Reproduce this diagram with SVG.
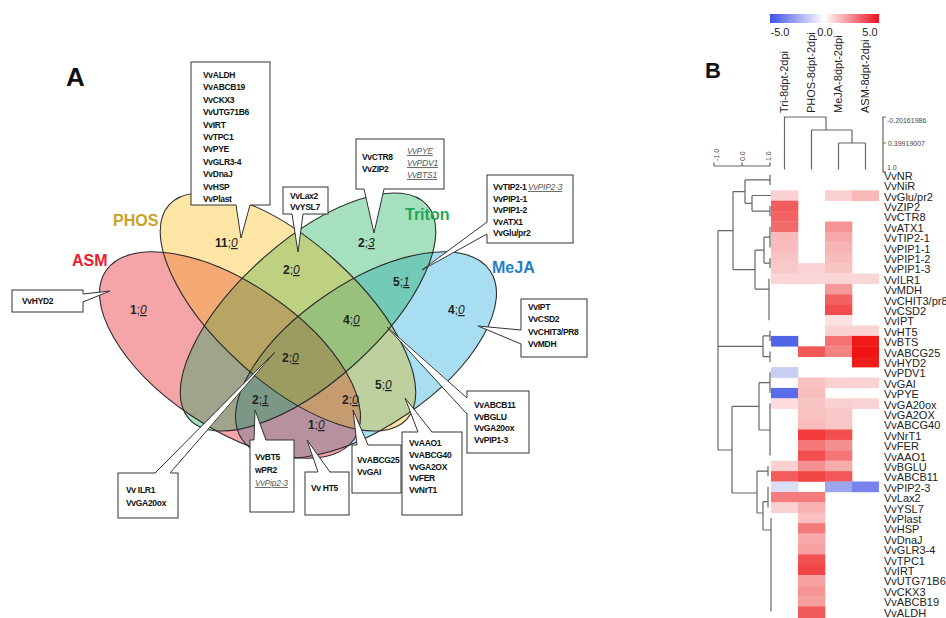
<svg xmlns="http://www.w3.org/2000/svg" width="946" height="618" viewBox="0 0 946 618">
<defs>
<style>
text{font-family:"Liberation Sans",Arial,sans-serif}
.ol{fill:none;stroke:#2b2b2b;stroke-width:1.1}
.box{fill:#fff;stroke:#333;stroke-width:1}
.wf{fill:#fff;stroke:none}
.wl{fill:none;stroke:#333;stroke-width:1}
.g{font-size:8.5px;font-weight:bold;fill:#111;letter-spacing:-0.3px}
.gi{font-size:8.5px;font-style:italic;fill:#555;text-decoration:underline;letter-spacing:-0.2px}
.n{font-size:12px;font-weight:bold;fill:#222}
.u{font-style:italic;font-weight:normal;text-decoration:underline}
.s{font-weight:normal}
.set{font-size:16px;font-weight:bold}
.dg{fill:none;stroke:#666;stroke-width:1.2}
.rl{font-size:11px;fill:#222}
.ch{font-size:11px;fill:#222}
.sc{font-size:7px;fill:#444}
.m{mix-blend-mode:multiply}
.fa{fill-opacity:0.5}
</style>
<linearGradient id="cb" x1="0" x2="1" y1="0" y2="0">
<stop offset="0" stop-color="#4050ee"/><stop offset="0.5" stop-color="#ffffff"/><stop offset="1" stop-color="#ee1020"/>
</linearGradient>
</defs>
<rect width="946" height="618" fill="#fff"/>

<text x="66" y="86" style="font-size:26px;font-weight:bold" fill="#111">A</text>

<!-- Venn fills: alpha layer -->
<g id="venn-alpha">
<ellipse class="fa" fill="#4fbde5" cx="366" cy="355" rx="150" ry="72" transform="rotate(-34.2 366 355)"/>
<ellipse class="fa" fill="#eb4951" cx="230" cy="355" rx="150" ry="72" transform="rotate(34.2 230 355)"/>
<ellipse class="fa" fill="#4bc17f" cx="308" cy="312" rx="160" ry="70" transform="rotate(-42 308 312)"/>
<ellipse class="fa" fill="#fbcd4b" cx="288" cy="312" rx="160" ry="70" transform="rotate(42 288 312)"/>
</g>
<!-- Venn fills: multiply layer -->
<g id="venn-mult" opacity="0.42">
<rect x="60" y="150" width="470" height="330" fill="#fff"/>
<ellipse class="m" fill="#f5a4a8" cx="230" cy="355" rx="150" ry="72" transform="rotate(34.2 230 355)"/>
<ellipse class="m" fill="#a7def2" cx="366" cy="355" rx="150" ry="72" transform="rotate(-34.2 366 355)"/>
<ellipse class="m" fill="#a5e0bf" cx="308" cy="312" rx="160" ry="70" transform="rotate(-42 308 312)"/>
<ellipse class="m" fill="#fde6a5" cx="288" cy="312" rx="160" ry="70" transform="rotate(42 288 312)"/>
</g>
<g id="sets">
<g id="set-asm"><ellipse class="ol" cx="230" cy="355" rx="150" ry="72" transform="rotate(34.2 230 355)"/><text class="set" x="72" y="266" fill="#e8212b">ASM</text></g>
<g id="set-meja"><ellipse class="ol" cx="366" cy="355" rx="150" ry="72" transform="rotate(-34.2 366 355)"/><text class="set" x="492" y="273" fill="#1f7fc8">MeJA</text></g>
<g id="set-triton"><ellipse class="ol" cx="308" cy="312" rx="160" ry="70" transform="rotate(-42 308 312)"/><text class="set" x="405" y="220" fill="#21a85a">Triton</text></g>
<g id="set-phos"><ellipse class="ol" cx="288" cy="312" rx="160" ry="70" transform="rotate(42 288 312)"/><text class="set" x="113" y="226" fill="#c9a227">PHOS</text></g>
</g>

<g id="counts">
<text class="n" x="215" y="247">11<tspan class="s">;</tspan><tspan class="u">0</tspan></text>
<text class="n" x="130" y="314">1<tspan class="s">;</tspan><tspan class="u">0</tspan></text>
<text class="n" x="358" y="247">2<tspan class="s">;</tspan><tspan class="u">3</tspan></text>
<text class="n" x="448" y="314">4<tspan class="s">;</tspan><tspan class="u">0</tspan></text>
<text class="n" x="283" y="274">2<tspan class="s">;</tspan><tspan class="u">0</tspan></text>
<text class="n" x="393" y="286">5<tspan class="s">;</tspan><tspan class="u">1</tspan></text>
<text class="n" x="343" y="324">4<tspan class="s">;</tspan><tspan class="u">0</tspan></text>
<text class="n" x="282" y="362">2<tspan class="s">;</tspan><tspan class="u">0</tspan></text>
<text class="n" x="375" y="389">5<tspan class="s">;</tspan><tspan class="u">0</tspan></text>
<text class="n" x="342" y="404">2<tspan class="s">;</tspan><tspan class="u">0</tspan></text>
<text class="n" x="252" y="404">2<tspan class="s">;</tspan><tspan class="u">1</tspan></text>
<text class="n" x="308" y="429">1<tspan class="s">;</tspan><tspan class="u">0</tspan></text>
</g>

<!-- callout boxes -->
<g id="box-phos"><rect class="box" x="191" y="62" width="79" height="143"/>
<text class="g" x="203" y="78">VvALDH</text><text class="g" x="203" y="90.4">VvABCB19</text><text class="g" x="203" y="102.8">VvCKX3</text><text class="g" x="203" y="115.2">VvUTG71B6</text><text class="g" x="203" y="127.6">VvIRT</text><text class="g" x="203" y="140">VvTPC1</text><text class="g" x="203" y="152.4">VvPYE</text><text class="g" x="203" y="164.8">VvGLR3-4</text><text class="g" x="203" y="177.2">VvDnaJ</text><text class="g" x="203" y="189.6">VvHSP</text><text class="g" x="203" y="202">VvPlast</text></g>
<g id="box-hyd2"><rect class="box" x="12" y="290" width="71" height="22"/><text class="g" x="22" y="304">VvHYD2</text></g>
<g id="box-lax2"><rect class="box" x="283" y="187" width="45" height="27"/><text class="g" x="290" y="199">VvLax2</text><text class="g" x="290" y="210">VvYSL7</text></g>
<g id="box-ctr8"><rect class="box" x="356" y="139" width="88" height="50"/><text class="g" x="362" y="160">VvCTR8</text><text class="g" x="362" y="172">VvZIP2</text><text class="gi" x="407" y="154">VvPYE</text><text class="gi" x="407" y="166">VvPDV1</text><text class="gi" x="407" y="178">VvBTS1</text></g>
<g id="box-tip2"><rect class="box" x="487" y="175" width="86" height="68"/><text class="g" x="493" y="190">VvTIP2-1</text><text class="gi" x="528" y="190">VvPIP2-3</text><text class="g" x="493" y="201.5">VvPIP1-1</text><text class="g" x="493" y="213">VvPIP1-2</text><text class="g" x="493" y="224.5">VvATX1</text><text class="g" x="493" y="236">VvGlu/pr2</text></g>
<g id="box-ipt"><rect class="box" x="521" y="299" width="66" height="58"/><text class="g" x="528" y="310">VvIPT</text><text class="g" x="528" y="322">VvCSD2</text><text class="g" x="528" y="335">VvCHIT3/PR8</text><text class="g" x="528" y="347">VvMDH</text></g>
<g id="box-abcb11"><rect class="box" x="467" y="391" width="62" height="62"/><text class="g" x="474" y="408">VvABCB11</text><text class="g" x="474" y="420">VvBGLU</text><text class="g" x="474" y="431">VvGA20ox</text><text class="g" x="474" y="443">VvPIP1-3</text></g>
<g id="box-aao1"><rect class="box" x="402" y="432" width="60" height="83"/><text class="g" x="409" y="446">VvAAO1</text><text class="g" x="409" y="458">VvABCG40</text><text class="g" x="409" y="470">VvGA2OX</text><text class="g" x="409" y="481">VvFER</text><text class="g" x="409" y="493">VvNrT1</text></g>
<g id="box-abcg25"><rect class="box" x="352" y="445" width="49" height="48"/><text class="g" x="357" y="463">VvABCG25</text><text class="g" x="357" y="475">VvGAI</text></g>
<g id="box-ht5"><rect class="box" x="305" y="472" width="44" height="43"/><text class="g" x="311" y="491">Vv HT5</text></g>
<g id="box-bt5"><rect class="box" x="250" y="440" width="44" height="72"/><text class="g" x="255" y="460">VvBT5</text><text class="g" x="255" y="473">wPR2</text><text class="gi" x="255" y="486">VvPip2-3</text></g>
<g id="box-ilr1"><rect class="box" x="118" y="473" width="60" height="45"/><text class="g" x="126" y="493">Vv ILR1</text><text class="g" x="126" y="506">VvGA20ox</text></g>

<!-- connectors (callout pointers) -->
<g id="connectors">
<polygon class="wf" points="236,204 241,238 250,204"/><polyline class="wl" points="236,205 241,238 250,205"/>
<polygon class="wf" points="82,294 110,291 82,302"/><polyline class="wl" points="83,294 110,291 83,302"/>
<polygon class="wf" points="292,213 298,252 303,213"/><polyline class="wl" points="292,214 298,252 303,214"/>
<polygon class="wf" points="364,188 374,233 384,188"/><polyline class="wl" points="364,189 374,233 384,189"/>
<polygon class="wf" points="488,222 422,270 488,234"/><polyline class="wl" points="487,222 422,270 487,234"/>
<polygon class="wf" points="522,330 478,326 522,344"/><polyline class="wl" points="521,330 478,326 521,344"/>
<polygon class="wf" points="468,398 387,327 468,414"/><polyline class="wl" points="467,398 387,327 467,414"/>
<polygon class="wf" points="418,433 405,398 432,433"/><polyline class="wl" points="418,432 405,398 432,432"/>
<polygon class="wf" points="357,446 353,410 368,446"/><polyline class="wl" points="357,445 353,410 368,445"/>
<polygon class="wf" points="318,473 307,440 330,473"/><polyline class="wl" points="318,472 307,440 330,472"/>
<polygon class="wf" points="254,441 255,410 266,441"/><polyline class="wl" points="254,440 255,410 266,440"/>
<polygon class="wf" points="155,474 275,352 170,474"/><polyline class="wl" points="155,473 275,352 170,473"/>
</g>

<!-- Panel B heatmap -->
<g id="heatmap">
<text x="705" y="78" style="font-size:22px;font-weight:bold" fill="#111">B</text>
<rect x="770" y="14" width="109" height="9" fill="url(#cb)"/>
<text class="ch" x="780" y="36" text-anchor="middle">-5.0</text>
<text class="ch" x="825" y="36" text-anchor="middle">0.0</text>
<text class="ch" x="870" y="36" text-anchor="middle">5.0</text>
<text class="ch" transform="translate(788,113) rotate(-90)">Tri-8dpt-2dpi</text>
<text class="ch" transform="translate(815,113) rotate(-90)">PHOS-8dpt-2dpi</text>
<text class="ch" transform="translate(842,113) rotate(-90)">MeJA-8dpt-2dpi</text>
<text class="ch" transform="translate(869,113) rotate(-90)">ASM-8dpt-2dpi</text>
<path class="dg" d="M784.5,169.5 V117 H826 V130 M811.5,130 H852 M811.5,130 V169.5 M852,130 V143 M838.5,143 H865.5 M838.5,143 V169.5 M865.5,143 V169.5"/>
<path class="dg" d="M886,117 H883 V172 H886 M883,143 H886"/>
<text class="sc" x="887" y="123">-0.20161986</text>
<text class="sc" x="888" y="146">0.39919007</text>
<text class="sc" x="887" y="170">1.0</text>
<path class="dg" d="M714,166 H770 M714,162.5 V166 M742,162.5 V166 M770,162.5 V166"/>
<text class="sc" transform="translate(718.5,161) rotate(-90)">-1.0</text>
<text class="sc" transform="translate(744.5,161) rotate(-90)">0.0</text>
<text class="sc" transform="translate(770.5,161) rotate(-90)">1.0</text>
<path class="dg" d="M770,174.7 V185.1 M745,179.9 H770 M770,205.9 V216.3 M752,211.1 H770 M752,195.5 H771 M752,195.5 V211.1 M745,203.3 H752 M745,179.9 V203.3 M733,191.6 H745 M770,226.7 V247.5 M764,237.1 H770 M770,257.9 V268.3 M764,263.1 H770 M764,237.1 V263.1 M755,250.1 H764 M769,278.7 V320.3 M755,289.1 H769 M755,250.1 V289.1 M733,269.6 H755 M733,191.6 V269.6 M718,230.6 H733 M770,330.7 V341.1 M763,335.9 H770 M770,351.5 V361.9 M763,356.7 H770 M763,335.9 V356.7 M718,346.3 H763 M770,372.3 V393.1 M759,382.7 H770 M770,403.5 V455.5 M759,430 H770 M759,382.7 V430 M732,406.4 H759 M768,465.9 V476.3 M757,471.1 H768 M768,486.7 V507.5 M763,501.7 H768 M771,517.9 V611.5 M763,530 H771 M763,501.7 V530 M757,513 H763 M757,471.1 V513 M732,493 H757 M732,406.4 V493 M718,450 H732 M718,230.6 V450"/>
<g id="cells">
<rect x="771" y="190.3" width="27.3" height="10.7" fill="#fbd0d0"/><rect x="825" y="190.3" width="27.3" height="10.7" fill="#fbd0d0"/><rect x="852" y="190.3" width="27" height="10.7" fill="#f8b8b8"/>
<rect x="771" y="200.7" width="27.3" height="10.7" fill="#f25e5e"/>
<rect x="771" y="211.1" width="27.3" height="10.7" fill="#f26464"/>
<rect x="771" y="221.5" width="27.3" height="10.7" fill="#f36a6a"/><rect x="825" y="221.5" width="27.3" height="10.7" fill="#f59494"/>
<rect x="771" y="231.9" width="27.3" height="10.7" fill="#f8baba"/><rect x="825" y="231.9" width="27.3" height="10.7" fill="#f7a8a8"/>
<rect x="771" y="242.3" width="27.3" height="10.7" fill="#f8bcbc"/><rect x="825" y="242.3" width="27.3" height="10.7" fill="#f8b4b4"/>
<rect x="771" y="252.7" width="27.3" height="10.7" fill="#f9c4c4"/><rect x="825" y="252.7" width="27.3" height="10.7" fill="#f8bcbc"/>
<rect x="771" y="263.1" width="27.3" height="10.7" fill="#f9c8c8"/><rect x="798" y="263.1" width="27.3" height="10.7" fill="#fad4d4"/><rect x="825" y="263.1" width="27.3" height="10.7" fill="#f8c4c4"/>
<rect x="771" y="273.5" width="108" height="10.7" fill="#fad6d6"/>
<rect x="825" y="283.9" width="27.3" height="10.7" fill="#f59a9a"/>
<rect x="825" y="294.3" width="27.3" height="10.7" fill="#f26262"/>
<rect x="825" y="304.7" width="27.3" height="10.7" fill="#f24c4c"/>
<rect x="825" y="315.1" width="27.3" height="10.7" fill="#fbe2e2"/>
<rect x="825" y="325.5" width="54" height="10.7" fill="#fad2d2"/>
<rect x="771" y="335.9" width="27.3" height="10.7" fill="#5064e6"/><rect x="825" y="335.9" width="27.3" height="10.7" fill="#f47474"/><rect x="852" y="335.9" width="27" height="10.7" fill="#f01818"/>
<rect x="798" y="346.3" width="27.3" height="10.7" fill="#f25858"/><rect x="825" y="346.3" width="27.3" height="10.7" fill="#f48282"/><rect x="852" y="346.3" width="27" height="10.7" fill="#f01212"/>
<rect x="852" y="356.7" width="27" height="10.7" fill="#f01c1c"/>
<rect x="771" y="367.1" width="27.3" height="10.7" fill="#c8cdf2"/>
<rect x="798" y="377.5" width="27.3" height="10.7" fill="#f8c2c2"/><rect x="825" y="377.5" width="27.3" height="10.7" fill="#fad0d0"/><rect x="852" y="377.5" width="27" height="10.7" fill="#fad2d2"/>
<rect x="771" y="387.9" width="27.3" height="10.7" fill="#5a6ce8"/><rect x="798" y="387.9" width="27.3" height="10.7" fill="#f8bebe"/>
<rect x="771" y="398.3" width="27.3" height="10.7" fill="#fcdcdc"/><rect x="798" y="398.3" width="27.3" height="10.7" fill="#f8c4c4"/><rect x="825" y="398.3" width="27.3" height="10.7" fill="#fad0d0"/><rect x="852" y="398.3" width="27" height="10.7" fill="#fad4d4"/>
<rect x="798" y="408.7" width="27.3" height="10.7" fill="#f8c2c2"/><rect x="825" y="408.7" width="27.3" height="10.7" fill="#f8c8c8"/>
<rect x="798" y="419.1" width="27.3" height="10.7" fill="#f8bcbc"/><rect x="825" y="419.1" width="27.3" height="10.7" fill="#f8c6c6"/>
<rect x="798" y="429.5" width="27.3" height="10.7" fill="#f23a3a"/><rect x="825" y="429.5" width="27.3" height="10.7" fill="#f24e4e"/>
<rect x="798" y="439.9" width="27.3" height="10.7" fill="#f47676"/><rect x="825" y="439.9" width="27.3" height="10.7" fill="#f59090"/>
<rect x="798" y="450.3" width="27.3" height="10.7" fill="#f24e4e"/><rect x="825" y="450.3" width="27.3" height="10.7" fill="#f47676"/>
<rect x="771" y="460.7" width="27.3" height="10.7" fill="#fad0d0"/><rect x="798" y="460.7" width="27.3" height="10.7" fill="#f59090"/><rect x="825" y="460.7" width="27.3" height="10.7" fill="#f7acac"/>
<rect x="771" y="471.1" width="27.3" height="10.7" fill="#f25c5c"/><rect x="798" y="471.1" width="27.3" height="10.7" fill="#f24646"/><rect x="825" y="471.1" width="27.3" height="10.7" fill="#f35858"/>
<rect x="771" y="481.5" width="27.3" height="10.7" fill="#dadef6"/><rect x="825" y="481.5" width="27.3" height="10.7" fill="#9ca6ef"/><rect x="852" y="481.5" width="27" height="10.7" fill="#7884ec"/>
<rect x="771" y="491.9" width="54.3" height="10.7" fill="#f47c7c"/>
<rect x="771" y="502.3" width="27.3" height="10.7" fill="#fad0d0"/><rect x="798" y="502.3" width="27.3" height="10.7" fill="#f8b0b0"/>
<rect x="798" y="512.7" width="27.3" height="10.7" fill="#f8c0c0"/>
<rect x="798" y="523.1" width="27.3" height="10.7" fill="#f47a7a"/>
<rect x="798" y="533.5" width="27.3" height="10.7" fill="#f8a8a8"/>
<rect x="798" y="543.9" width="27.3" height="10.7" fill="#f6a2a2"/>
<rect x="798" y="554.3" width="27.3" height="10.7" fill="#f25252"/>
<rect x="798" y="564.7" width="27.3" height="10.7" fill="#f24646"/>
<rect x="798" y="575.1" width="27.3" height="10.7" fill="#f7a2a2"/>
<rect x="798" y="585.5" width="27.3" height="10.7" fill="#f59494"/>
<rect x="798" y="595.9" width="27.3" height="10.7" fill="#f6a0a0"/>
<rect x="798" y="606.3" width="27.3" height="11.7" fill="#f25a5a"/>
</g>
<text class="rl" x="884" y="179.8"><tspan x="884" dy="0">VvNR</tspan><tspan x="884" dy="10.4">VvNiR</tspan><tspan x="884" dy="10.4">VvGlu/pr2</tspan><tspan x="884" dy="10.4">VvZIP2</tspan><tspan x="884" dy="10.4">VvCTR8</tspan><tspan x="884" dy="10.4">VvATX1</tspan><tspan x="884" dy="10.4">VvTIP2-1</tspan><tspan x="884" dy="10.4">VvPIP1-1</tspan><tspan x="884" dy="10.4">VvPIP1-2</tspan><tspan x="884" dy="10.4">VvPIP1-3</tspan><tspan x="884" dy="10.4">VvILR1</tspan><tspan x="884" dy="10.4">VvMDH</tspan><tspan x="884" dy="10.4">VvCHIT3/pr8</tspan><tspan x="884" dy="10.4">VvCSD2</tspan><tspan x="884" dy="10.4">VvIPT</tspan><tspan x="884" dy="10.4">VvHT5</tspan><tspan x="884" dy="10.4">VvBTS</tspan><tspan x="884" dy="10.4">VvABCG25</tspan><tspan x="884" dy="10.4">VvHYD2</tspan><tspan x="884" dy="10.4">VvPDV1</tspan><tspan x="884" dy="10.4">VvGAI</tspan><tspan x="884" dy="10.4">VvPYE</tspan><tspan x="884" dy="10.4">VvGA20ox</tspan><tspan x="884" dy="10.4">VvGA2OX</tspan><tspan x="884" dy="10.4">VvABCG40</tspan><tspan x="884" dy="10.4">VvNrT1</tspan><tspan x="884" dy="10.4">VvFER</tspan><tspan x="884" dy="10.4">VvAAO1</tspan><tspan x="884" dy="10.4">VvBGLU</tspan><tspan x="884" dy="10.4">VvABCB11</tspan><tspan x="884" dy="10.4">VvPIP2-3</tspan><tspan x="884" dy="10.4">VvLax2</tspan><tspan x="884" dy="10.4">VvYSL7</tspan><tspan x="884" dy="10.4">VvPlast</tspan><tspan x="884" dy="10.4">VvHSP</tspan><tspan x="884" dy="10.4">VvDnaJ</tspan><tspan x="884" dy="10.4">VvGLR3-4</tspan><tspan x="884" dy="10.4">VvTPC1</tspan><tspan x="884" dy="10.4">VvIRT</tspan><tspan x="884" dy="10.4">VvUTG71B6</tspan><tspan x="884" dy="10.4">VvCKX3</tspan><tspan x="884" dy="10.4">VvABCB19</tspan><tspan x="884" dy="10.4">VvALDH</tspan></text>
</g>
</svg>
